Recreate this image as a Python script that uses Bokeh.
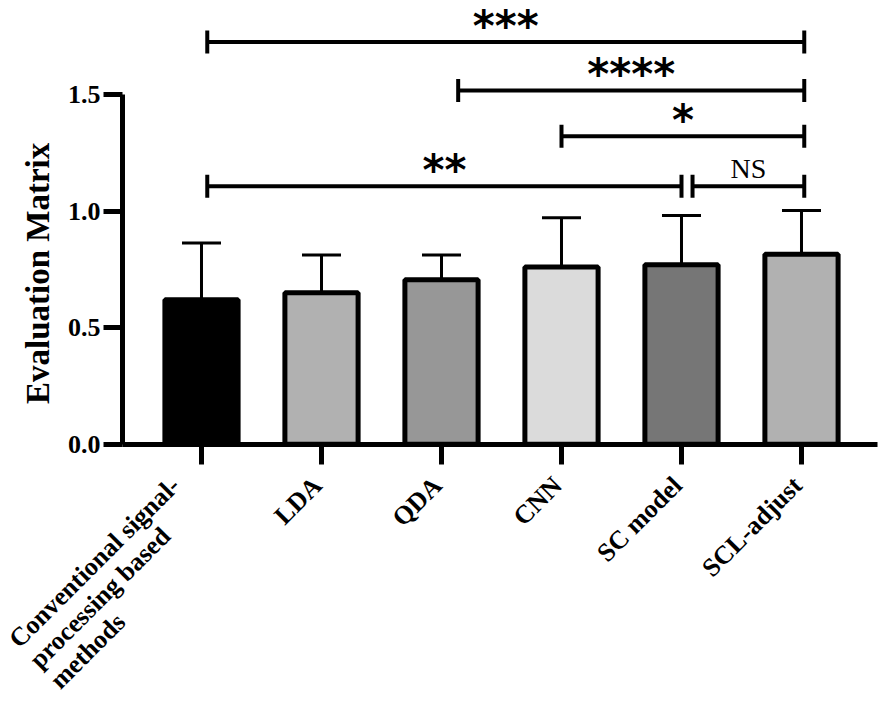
import math
from bokeh.plotting import figure
from bokeh.models import (ColumnDataSource, Range1d, LinearAxis, FixedTicker,
                          NumeralTickFormatter, Whisker, TeeHead)
from bokeh.core.properties import value
from bokeh.embed import file_html
from bokeh.resources import INLINE

# ---------------- data ----------------
categories = ["Conventional signal-\nprocessing based\nmethods", "LDA", "QDA",
              "CNN", "SC model", "SCL-adjust"]
means = [0.62, 0.65, 0.705, 0.76, 0.77, 0.815]
errors = [0.243, 0.162, 0.107, 0.211, 0.211, 0.188]
bar_colors = ["#000000", "#b1b1b1", "#979797", "#dbdbdb", "#767676", "#b1b1b1"]

y_ticks = [0.0, 0.5, 1.0, 1.5]
y_title = "Evaluation Matrix"

sig_from = [0, 2, 3, 0, 4]
sig_to = [5, 5, 5, 4, 5]
sig_level = [1.725, 1.517, 1.321, 1.107, 1.107]
sig_text = ["***", "****", "*", "**", "NS"]

# style: small horizontal insets of bracket ends (category units)
sig_pad_left = [0.048, 0.139, 0.0, 0.048, 0.092]
sig_pad_right = [0.023, 0.023, 0.023, 0.0, 0.023]

FONT = "Liberation Serif"
STAR_FONT = "DejaVu Sans"
xs = list(range(len(categories)))

p = figure(width=878, height=695,
           x_range=Range1d(-1.675, 5.6417), y_range=Range1d(-1.0781, 1.9035),
           output_backend="svg", toolbar_location=None,
           x_axis_location=None, y_axis_location=None, min_border=0)
p.grid.visible = False
p.outline_line_color = None
p.background_fill_color = "white"

y_axis_x = -0.658

# ---------------- axes ----------------
yax = LinearAxis(fixed_location=y_axis_x, bounds=(0, 1.5),
                 ticker=FixedTicker(ticks=y_ticks),
                 formatter=NumeralTickFormatter(format="0.0"))
yax.axis_line_width = 5
yax.major_tick_line_width = 5
yax.major_tick_out = 19
yax.major_tick_in = 0
yax.minor_tick_out = 0
yax.minor_tick_in = 0
yax.major_label_standoff = 3
yax.major_label_text_font = FONT
yax.major_label_text_font_style = "bold"
yax.major_label_text_font_size = "26px"
yax.major_label_text_color = "black"
p.add_layout(yax, "left")

xax = LinearAxis(fixed_location=0, bounds=(y_axis_x, 5.635),
                 ticker=FixedTicker(ticks=xs))
xax.major_label_overrides = {i: "" for i in xs}
xax.major_label_text_font_size = "0px"
xax.axis_line_width = 5
xax.major_tick_line_width = 5
xax.major_tick_out = 20
xax.major_tick_in = 0
xax.minor_tick_out = 0
xax.minor_tick_in = 0
p.add_layout(xax, "below")

# ---------------- bars ----------------
src = ColumnDataSource(dict(x=xs, top=means, color=bar_colors,
                            upper=[m + e for m, e in zip(means, errors)]))
p.vbar(x="x", top="top", bottom=0, width=0.61, fill_color="color",
       line_color="black", line_width=5, source=src)

wh = Whisker(base="x", upper="upper", lower="top", source=src, dimension="height",
             line_width=3, line_color="black",
             upper_head=TeeHead(size=39, line_width=3, line_color="black"),
             lower_head=None)
p.add_layout(wh)

# ---------------- significance brackets ----------------
bx0 = [a + pl for a, pl in zip(sig_from, sig_pad_left)]
bx1 = [b + pr for b, pr in zip(sig_to, sig_pad_right)]
bsrc = ColumnDataSource(dict(x0=bx0, x1=bx1, y=sig_level,
                             xm=[(a + b) / 2 for a, b in zip(bx0, bx1)],
                             text=sig_text))
p.segment(x0="x0", y0="y", x1="x1", y1="y", line_width=4, line_color="black",
          source=bsrc)
p.scatter(x=bx0 + bx1, y=sig_level + sig_level, marker="dash", size=23,
          angle=math.pi / 2, line_width=4, line_color="black")

star_idx = [i for i, t in enumerate(sig_text) if t != "NS"]
ns_idx = [i for i, t in enumerate(sig_text) if t == "NS"]
ssrc = ColumnDataSource(dict(x=[bsrc.data["xm"][i] for i in star_idx],
                             y=[sig_level[i] for i in star_idx],
                             text=[sig_text[i] for i in star_idx]))
p.text(x="x", y="y", text="text", source=ssrc, text_align="center",
       text_baseline="alphabetic", y_offset=-16, text_font=value(STAR_FONT),
       text_font_style="bold", text_font_size="42px", text_color="black")
nsrc = ColumnDataSource(dict(x=[bsrc.data["xm"][i] for i in ns_idx],
                             y=[sig_level[i] for i in ns_idx],
                             text=[sig_text[i] for i in ns_idx]))
p.text(x="x", y="y", text="text", source=nsrc, text_align="center",
       text_baseline="alphabetic", y_offset=-18, text_font=value(FONT),
       text_font_size="28px", text_color="black")

# ---------------- category labels (rotated 45 deg) ----------------
ang = math.pi / 4
single = [(i, c) for i, c in enumerate(categories) if "\n" not in c]
lsrc = ColumnDataSource(dict(x=[i for i, _ in single], y=[0] * len(single),
                             text=[c for _, c in single]))
p.text(x="x", y="y", text="text", source=lsrc, angle=ang, text_align="right",
       text_baseline="middle", x_offset=-4, y_offset=37, text_font=value(FONT),
       text_font_style="bold", text_font_size="26px", text_color="black")

multi = [(i, c) for i, c in enumerate(categories) if "\n" in c]
line_gap = 29
mx, my, mt, mxo, myo = [], [], [], [], []
for i, c in multi:
    for k, line in enumerate(c.split("\n")):
        mx.append(i)
        my.append(0)
        mt.append(line)
        mxo.append(-188 + k * line_gap * math.cos(ang))
        myo.append(199 + k * line_gap * math.sin(ang))
msrc = ColumnDataSource(dict(x=mx, y=my, text=mt, xo=mxo, yo=myo))
p.text(x="x", y="y", text="text", source=msrc, angle=ang, text_align="left",
       text_baseline="middle", x_offset="xo", y_offset="yo", text_font=value(FONT),
       text_font_style="bold", text_font_size="26px", text_color="black")

# ---------------- y axis title ----------------
p.text(x=[y_axis_x], y=[(y_ticks[0] + y_ticks[-1]) / 2], text=[y_title],
       angle=math.pi / 2, text_align="center", text_baseline="middle",
       x_offset=-85, y_offset=4, text_font=value(FONT), text_font_style="bold",
       text_font_size="33px", text_color="black")

open("out.html", "w").write(file_html(p, INLINE))
